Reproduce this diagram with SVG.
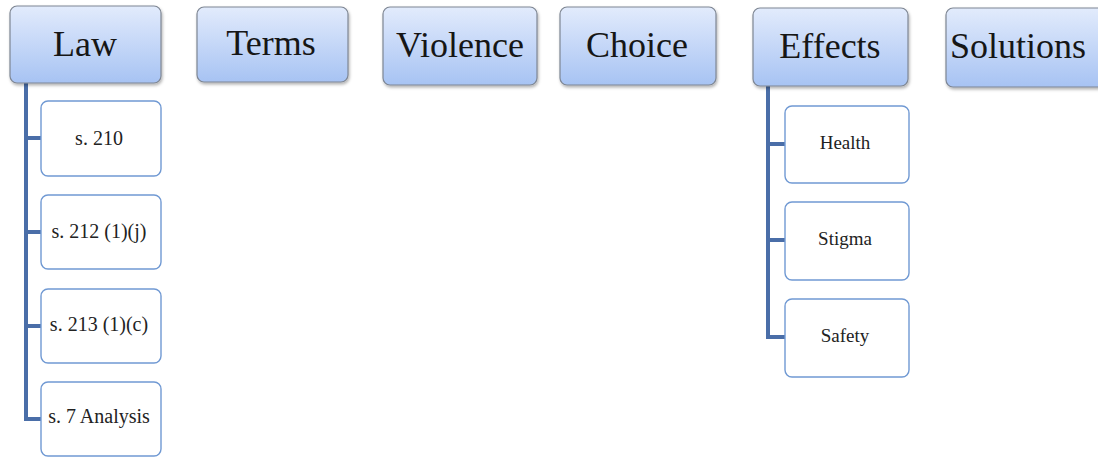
<svg xmlns="http://www.w3.org/2000/svg" width="1098" height="457" viewBox="0 0 1098 457">
<defs>
<linearGradient id="g" x1="0" y1="0" x2="0" y2="1">
<stop offset="0" stop-color="#e2ebfc"/>
<stop offset="1" stop-color="#a7c3f3"/>
</linearGradient>
<filter id="sh" x="-10%" y="-10%" width="125%" height="130%">
<feDropShadow dx="1" dy="2" stdDeviation="1.5" flood-color="#000" flood-opacity="0.3"/>
</filter>
<style>
.top{fill:url(#g);stroke:#7e8693;stroke-width:1.2;filter:url(#sh)}
.sub{fill:#fff;stroke:#7099d3;stroke-width:1.4}
.tt{font-family:"Liberation Serif",serif;font-size:36px;fill:#161616;text-anchor:middle}
.st{font-family:"Liberation Serif",serif;font-size:20px;fill:#222;text-anchor:middle}
.et{font-family:"Liberation Serif",serif;font-size:19px;fill:#222;text-anchor:middle}
.c{stroke:#4a6ea8;stroke-width:4;fill:none}
</style>
</defs>
<rect width="1098" height="457" fill="#fff"/>
<g id="connectors">
<polyline class="c" points="26,83 26,419 41,419"/>
<line class="c" x1="26" y1="138" x2="41" y2="138"/>
<line class="c" x1="26" y1="232" x2="41" y2="232"/>
<line class="c" x1="26" y1="326" x2="41" y2="326"/>
<polyline class="c" points="768,86 768,337 785,337"/>
<line class="c" x1="768" y1="144" x2="785" y2="144"/>
<line class="c" x1="768" y1="240" x2="785" y2="240"/>
</g>
<g id="law"><rect class="top" x="10" y="6" width="151" height="77" rx="7"/><text class="tt" x="85" y="56">Law</text></g>
<g id="terms"><rect class="top" x="197" y="7" width="151" height="75" rx="7"/><text class="tt" x="271" y="55">Terms</text></g>
<g id="violence"><rect class="top" x="383" y="7" width="154" height="78" rx="7"/><text class="tt" x="460" y="57">Violence</text></g>
<g id="choice"><rect class="top" x="560" y="7" width="156" height="78" rx="7"/><text class="tt" x="637" y="57">Choice</text></g>
<g id="effects"><rect class="top" x="753" y="8" width="155" height="78" rx="7"/><text class="tt" x="830" y="58">Effects</text></g>
<g id="solutions"><rect class="top" x="946" y="8" width="160" height="79" rx="7"/><text class="tt" x="1018" y="58">Solutions</text></g>
<g id="s210"><rect class="sub" x="41" y="101" width="120" height="75" rx="7"/><text class="st" x="99" y="145">s. 210</text></g>
<g id="s212"><rect class="sub" x="41" y="195" width="120" height="74" rx="7"/><text class="st" x="99" y="238">s. 212 (1)(j)</text></g>
<g id="s213"><rect class="sub" x="41" y="289" width="120" height="74" rx="7"/><text class="st" x="99" y="331">s. 213 (1)(c)</text></g>
<g id="s7"><rect class="sub" x="41" y="382" width="120" height="74" rx="7"/><text class="st" x="99" y="423">s. 7 Analysis</text></g>
<g id="health"><rect class="sub" x="785" y="106" width="124" height="77" rx="7"/><text class="et" x="845" y="149">Health</text></g>
<g id="stigma"><rect class="sub" x="785" y="202" width="124" height="78" rx="7"/><text class="et" x="845" y="245">Stigma</text></g>
<g id="safety"><rect class="sub" x="785" y="299" width="124" height="78" rx="7"/><text class="et" x="845" y="342">Safety</text></g>
</svg>
